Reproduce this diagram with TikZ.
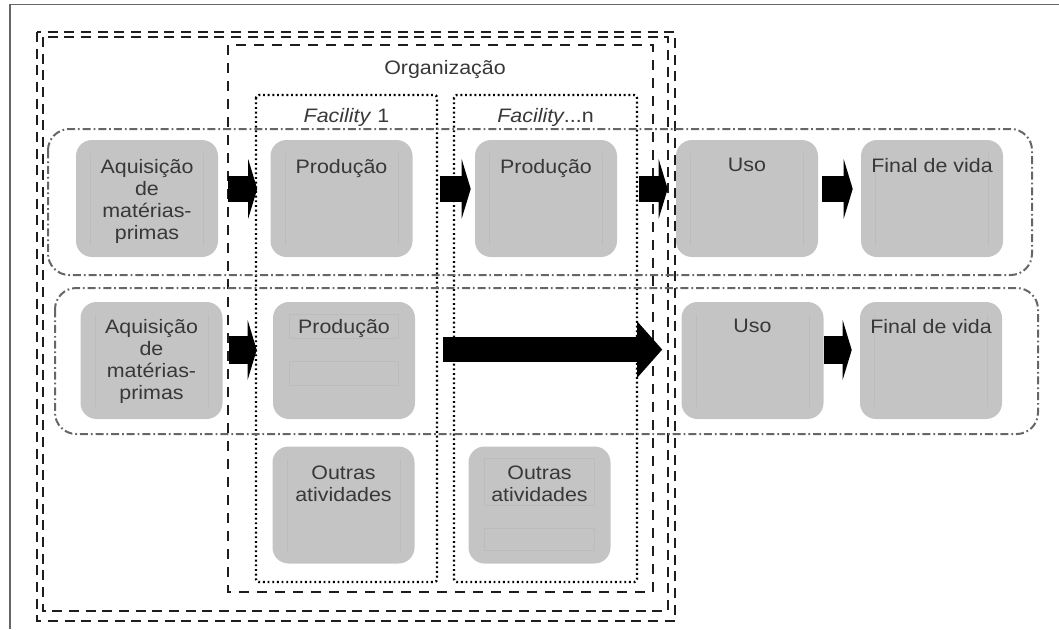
\documentclass[tikz,border=0pt]{standalone}
\usepackage{fontspec}
\setmainfont{Liberation Sans}[FakeStretch=1.1]
\usetikzlibrary{arrows.meta}
\definecolor{boxgrey}{HTML}{C4C4C4}
\definecolor{inkgrey}{HTML}{383838}
\definecolor{rowline}{HTML}{666666}
\definecolor{framegrey}{HTML}{666666}
\definecolor{ghostgrey}{HTML}{BCBCBC}
\definecolor{dashink}{HTML}{1E1E1E}
\begin{document}
\begin{tikzpicture}[x=0.75pt,y=-0.75pt,
  gbox/.style={rectangle, rounded corners=12pt, fill=boxgrey, draw=none,
    minimum width=106.5pt, minimum height=87.75pt, inner sep=0pt},
  blabel/.style={anchor=north, inner sep=0pt, align=center, text=inkgrey,
    font=\fontsize{14.6}{16.5}\selectfont},
  flow/.style={line width=19pt, -{Triangle[length=6.75pt,width=44.25pt]}},
  longflow/.style={line width=18.75pt, -{Triangle[length=18.75pt,width=41.25pt]}},
  ghost/.style={draw=ghostgrey, line width=0.4pt},
  outerdash/.style={draw=dashink, line width=1.9pt, dash pattern=on 7.5pt off 5pt},
  orgdash/.style={draw=dashink, line width=1.8pt, dash pattern=on 7.5pt off 6pt},
  sitedots/.style={draw=black, line width=1.8pt, dash pattern=on 1.4pt off 2.1pt, rounded corners=2pt},
  rowframe/.style={draw=rowline, line width=1.5pt, rounded corners=16pt,
    dash pattern=on 6pt off 2.2pt on 1.3pt off 2.2pt}]
\useasboundingbox (0,0) rectangle (1059,629);

% page frame
\draw[framegrey, line width=1.3pt] (10,629) -- (10,4.5) -- (1059,4.5);

% system boundaries
\draw[outerdash] (37,32) rectangle (675,621);
\draw[outerdash] (43,37) rectangle (668,611);
\draw[orgdash] (228,45) rectangle (653,592);
\draw[sitedots] (256,95) rectangle (437,582);
\draw[sitedots] (454,95) rectangle (637,582);

% life-cycle rows
\draw[rowframe] (48,129) rectangle (1032,275);
\draw[rowframe] (55,288) rectangle (1038,434);

% headings
\node[blabel] (org) at (445,60) {Organização};
\node[blabel] (fac1) at (346.5,108) {\textit{Facility} 1};
\node[blabel] (facn) at (545.5,108) {\textit{Facility}...n};

% row 1
\node[gbox] (aq1) at (147,198.5) {};
\node[gbox] (pf1) at (341.5,198.5) {};
\node[gbox] (pn1) at (546,198.5) {};
\node[gbox] (uso1) at (747,198.5) {};
\node[gbox] (fim1) at (932,198.5) {};
% row 2
\node[gbox] (aq2) at (151.5,360.5) {};
\node[gbox] (pr2) at (344,360.5) {};
\node[gbox] (uso2) at (752.5,360.5) {};
\node[gbox] (fim2) at (931,360.5) {};
% row 3
\node[gbox] (ou1) at (343.5,505) {};
\node[gbox] (oun) at (539.5,505) {};

% faint inner guides of the boxes
\foreach \b in {aq1,pf1,pn1,uso1,fim1,aq2,uso2,fim2,ou1}{
  \draw[ghost] ([shift={(15,13)}]\b.north west) -- ([shift={(15,-12)}]\b.south west);
  \draw[ghost] ([shift={(-15,13)}]\b.north east) -- ([shift={(-15,-12)}]\b.south east);
}
\draw[ghost] ([shift={(17,13)}]pr2.north west) rectangle ([shift={(-17,37)}]pr2.north east);
\draw[ghost] ([shift={(17,60)}]pr2.north west) rectangle ([shift={(-17,84)}]pr2.north east);
\draw[ghost] ([shift={(16,12)}]oun.north west) rectangle ([shift={(-17,59)}]oun.north east);
\draw[ghost] ([shift={(16,82)}]oun.north west) rectangle ([shift={(-17,104)}]oun.north east);

% box texts
\node[blabel] (taq1) at ([yshift=-14.25pt]aq1.north) {Aquisição\\de\\matérias-\\primas};
\node[blabel] (tpf1) at ([yshift=-14.25pt]pf1.north) {Produção};
\node[blabel] (tpn1) at ([yshift=-14.25pt]pn1.north) {Produção};
\node[blabel] (tuso1) at ([yshift=-13.5pt]uso1.north) {Uso};
\node[blabel] (tfim1) at ([yshift=-13.5pt]fim1.north) {Final de vida};
\node[blabel] (taq2) at ([yshift=-12.75pt]aq2.north) {Aquisição\\de\\matérias-\\primas};
\node[blabel] (tpr2) at ([yshift=-12.75pt]pr2.north) {Produção};
\node[blabel] (tuso2) at ([yshift=-12.75pt]uso2.north) {Uso};
\node[blabel] (tfim2) at ([yshift=-12.75pt]fim2.north) {Final de vida};
\node[blabel] (tou1) at ([yshift=-14.25pt]ou1.north) {Outras\\atividades};
\node[blabel] (toun) at ([yshift=-14.25pt]oun.north) {Outras\\atividades};

% flows, row 1
\draw[flow, shorten <=7.5pt, shorten >=9.75pt] ([yshift=7.2pt]aq1.east) -- ([yshift=7.2pt]pf1.west);
\draw[flow, shorten <=20.25pt, shorten >=3pt] ([yshift=7.2pt]pf1.east) -- ([yshift=7.2pt]pn1.west);
\draw[flow, shorten <=16.5pt, shorten >=6pt] ([yshift=7.2pt]pn1.east) -- ([yshift=7.2pt]uso1.west);
\draw[flow, shorten <=3pt, shorten >=6pt] ([yshift=7.2pt]uso1.east) -- ([yshift=7.2pt]fim1.west);
% flows, row 2
\draw[flow, line width=21pt, shorten <=4.5pt, shorten >=12pt] ([yshift=7.9pt]aq2.east) -- ([yshift=7.9pt]pr2.west);
\draw[longflow, shorten <=21pt, shorten >=14.25pt] ([yshift=8.2pt]pr2.east) -- ([yshift=8.2pt]uso2.west);
\draw[flow, line width=21pt, shorten <=0.5pt, shorten >=6pt] ([yshift=7.9pt]uso2.east) -- ([yshift=7.9pt]fim2.west);
\end{tikzpicture}
\end{document}
